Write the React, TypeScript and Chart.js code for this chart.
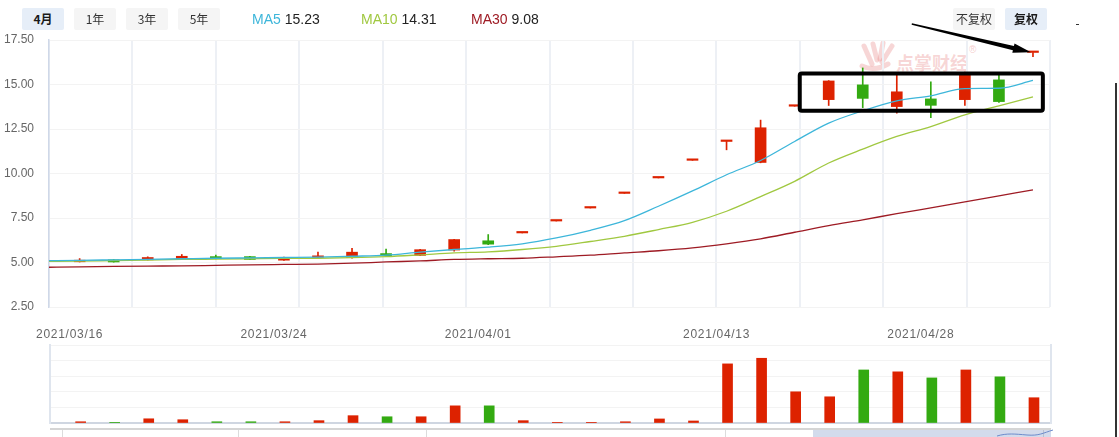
import React, { useEffect, useRef } from "react";
import { Chart, registerables } from "chart.js";

Chart.register(...registerables);

// ---------- data ----------
const tickIndex = [0, 6, 12, 19, 25];
const tickDates = ["2021/03/16", "2021/03/24", "2021/04/01", "2021/04/13", "2021/04/28"];

const opens = [5.04, 5.15, 5.15, 5.2, 5.33, 5.33, 5.13, 5.29, 5.28, 5.5, 5.4, 5.7, 6.22, 6.66, 7.33, 8.06, 8.88, 9.75, 10.74, 11.8, 10.62, 13.78, 14.15, 14.98, 13.76, 14.19, 14.15, 15.26, 16.8];
const highs = [5.22, 5.16, 5.32, 5.45, 5.41, 5.34, 5.3, 5.58, 5.8, 5.75, 5.74, 6.3, 6.57, 6.66, 7.33, 8.06, 8.88, 9.75, 10.74, 11.8, 13.0, 13.78, 15.22, 15.93, 15.56, 15.15, 15.7, 15.55, 16.8];
const lows = [5.03, 5.02, 5.14, 5.18, 5.2, 5.16, 5.12, 5.25, 5.25, 5.36, 5.38, 5.63, 6.0, 6.66, 7.33, 8.06, 8.88, 9.75, 10.74, 11.33, 10.6, 13.78, 13.82, 13.7, 13.39, 13.14, 13.82, 14.0, 16.56];
const closes = [5.13, 5.03, 5.28, 5.35, 5.22, 5.17, 5.28, 5.31, 5.58, 5.38, 5.72, 6.29, 6.03, 6.66, 7.33, 8.06, 8.88, 9.75, 10.74, 11.8, 12.57, 13.78, 15.2, 14.22, 14.59, 13.83, 15.6, 14.04, 16.8];
const volumes = [0.8, 0.2, 2.7, 2.1, 0.8, 0.8, 0.8, 1.5, 4.7, 4.0, 4.0, 11.0, 11.0, 1.5, 0.1, 0.1, 0.8, 2.6, 1.3, 37.9, 41.5, 20.0, 16.8, 34.0, 32.8, 28.9, 34.0, 29.6, 16.2];

// moving averages start one session before the first visible candle (index -1)
const ma5 = [5.1, 5.12, 5.15, 5.18, 5.21, 5.24, 5.26, 5.28, 5.3, 5.35, 5.41, 5.58, 5.73, 5.86, 6.05, 6.38, 6.81, 7.35, 8.16, 9.02, 9.93, 10.73, 11.8, 12.83, 13.52, 14.08, 14.36, 14.77, 14.79, 15.23];
const ma10 = [5.06, 5.08, 5.11, 5.14, 5.17, 5.19, 5.21, 5.23, 5.24, 5.27, 5.33, 5.43, 5.54, 5.6, 5.73, 5.91, 6.18, 6.47, 6.85, 7.26, 7.88, 8.7, 9.56, 10.59, 11.37, 12.08, 12.64, 13.3, 13.8, 14.31];
const ma30 = [4.73, 4.75, 4.78, 4.8, 4.81, 4.84, 4.87, 4.89, 4.91, 4.96, 5.03, 5.09, 5.17, 5.21, 5.24, 5.32, 5.41, 5.54, 5.66, 5.82, 6.05, 6.33, 6.7, 7.07, 7.4, 7.74, 8.07, 8.4, 8.74, 9.08];

const yTicks = [2.5, 17.5, 2.5]; // min, max, step

// annotation (data units)
const markBox = { fromIndex: 21.15, toIndex: 28.29, low: 13.52, high: 15.62 };
const markArrow = { fromIndex: 24.44, fromPrice: 18.4, toIndex: 27.94, toPrice: 16.81 };

// ---------- style ----------
const FONT = '"Liberation Sans", Arial, "Noto Sans CJK SC", sans-serif';
const CJK = '"Noto Sans CJK SC", "Liberation Sans", sans-serif';
const UP = "#dd2200";
const DOWN = "#33aa11";
const MA_COLORS = ["#3db6da", "#a0c840", "#9e1b24"];
const X_MIN = -0.9;
const X_MAX = 28.5;

const idx = closes.map((_, i) => i);
const candleColor = (i: number) => (closes[i] >= opens[i] ? UP : DOWN);

const xSpacingPlugin = {
  id: "xSpacing",
  beforeDraw(chart: any) {
    const s = chart.scales.x;
    if (s && !s.__patched) {
      const orig = s.drawLabels.bind(s);
      s.drawLabels = (area: any) => {
        const c = chart.ctx as any;
        c.save();
        c.letterSpacing = "0.7px";
        orig(area);
        c.restore();
      };
      s.__patched = true;
    }
  },
};

const markPlugin = {
  id: "marks",
  afterDraw(chart: any) {
    const { ctx, scales } = chart;
    const x = scales.x;
    const y = scales.y;
    // box
    const x0 = x.getPixelForValue(markBox.fromIndex);
    const x1 = x.getPixelForValue(markBox.toIndex);
    const y0 = y.getPixelForValue(markBox.high);
    const y1 = y.getPixelForValue(markBox.low);
    ctx.save();
    ctx.strokeStyle = "#000";
    ctx.lineWidth = 4;
    ctx.lineJoin = "round";
    ctx.beginPath();
    ctx.roundRect(x0, y0, x1 - x0, y1 - y0, 2);
    ctx.stroke();
    // arrow
    const sx = x.getPixelForValue(markArrow.fromIndex);
    const sy = y.getPixelForValue(markArrow.fromPrice);
    const tx = x.getPixelForValue(markArrow.toIndex);
    const ty = y.getPixelForValue(markArrow.toPrice);
    const L = Math.hypot(tx - sx, ty - sy);
    const ux = (tx - sx) / L;
    const uy = (ty - sy) / L;
    const nx = -uy;
    const ny = ux;
    const headLen = 18;
    const bx = tx - ux * headLen;
    const by = ty - uy * headLen;
    const pts = [
      [sx + nx * 0.7, sy + ny * 0.7],
      [bx + nx * 2.2, by + ny * 2.2],
      [bx + nx * 4.8, by + ny * 4.8],
      [tx, ty],
      [bx - nx * 4.8, by - ny * 4.8],
      [bx - nx * 2.2, by - ny * 2.2],
      [sx - nx * 0.7, sy - ny * 0.7],
    ];
    ctx.fillStyle = "#000";
    ctx.beginPath();
    pts.forEach(([px, py], k) => (k ? ctx.lineTo(px, py) : ctx.moveTo(px, py)));
    ctx.closePath();
    ctx.fill();
    ctx.restore();
  },
};

function maDataset(label: string, values: number[], color: string) {
  return {
    type: "line" as const,
    label,
    data: values.map((v, k) => ({ x: k - 1, y: v })),
    borderColor: color,
    borderWidth: 1.3,
    pointRadius: 0,
    cubicInterpolationMode: "monotone" as const,
    order: 0,
  };
}

function mainConfig(): any {
  return {
    type: "bar",
    data: {
      datasets: [
        maDataset("MA5", ma5, MA_COLORS[0]),
        maDataset("MA10", ma10, MA_COLORS[1]),
        maDataset("MA30", ma30, MA_COLORS[2]),
        {
          type: "bar",
          label: "body",
          data: idx.map((i) => ({ x: i, y: [opens[i], closes[i]] })),
          backgroundColor: idx.map(candleColor),
          barThickness: 11,
          minBarLength: 1.5,
          grouped: false,
          order: 1,
        },
        {
          type: "bar",
          label: "wick",
          data: idx.map((i) => ({ x: i, y: [lows[i], highs[i]] })),
          backgroundColor: idx.map(candleColor),
          barThickness: 1,
          grouped: false,
          order: 2,
        },
      ],
    },
    options: {
      animation: false,
      responsive: false,
      events: [],
      layout: { padding: { top: 40, right: 69, left: 0, bottom: 0 } },
      plugins: { legend: { display: false }, tooltip: { enabled: false } },
      scales: {
        x: {
          type: "linear",
          min: X_MIN,
          max: X_MAX,
          offset: false,
          position: "bottom",
          grid: { display: false, drawTicks: false, offset: false },
          border: { display: false },
          afterBuildTicks: (axis: any) => {
            axis.ticks = tickIndex.map((v) => ({ value: v }));
          },
          afterFit: (axis: any) => {
            axis.height = 38;
          },
          ticks: {
            autoSkip: false,
            maxRotation: 0,
            padding: 20,
            labelOffset: -10,
            color: "#666",
            font: { family: FONT, size: 12 },
            callback: (v: number) => tickDates[tickIndex.indexOf(v)] ?? "",
          },
        },
        xGrid: {
          type: "linear",
          min: 0,
          max: 12,
          position: "top",
          offset: false,
          ticks: { display: false, stepSize: 1 },
          grid: { color: "#edf0f5", lineWidth: 2, drawTicks: false, offset: false },
          border: { display: false },
          afterFit: (axis: any) => {
            axis.height = 0;
          },
        },
        y: {
          min: yTicks[0],
          max: yTicks[1],
          ticks: {
            stepSize: yTicks[2],
            padding: 15,
            color: "#666",
            font: { family: FONT, size: 12 },
            callback: (v: number) => Number(v).toFixed(2),
          },
          grid: { color: "#f3f3f3", drawTicks: false },
          border: { color: "#cfd8e8", width: 1.5 },
          afterFit: (axis: any) => {
            axis.width = 49;
          },
        },
      },
    },
    plugins: [xSpacingPlugin, markPlugin],
  };
}

function volConfig(): any {
  return {
    type: "bar",
    data: {
      datasets: [
        {
          label: "volume",
          data: idx.map((i) => ({ x: i, y: volumes[i] })),
          backgroundColor: idx.map(candleColor),
          barThickness: 10,
          grouped: false,
        },
      ],
    },
    options: {
      animation: false,
      responsive: false,
      events: [],
      layout: { padding: { top: 5, right: 68, bottom: 14, left: 0 } },
      plugins: { legend: { display: false }, tooltip: { enabled: false } },
      scales: {
        x: {
          type: "linear",
          min: X_MIN,
          max: X_MAX,
          offset: false,
          ticks: { display: false },
          grid: { display: false, drawTicks: false, offset: false },
          border: { display: true, color: "#cfd6e1", width: 2 },
          afterFit: (a: any) => {
            a.height = 0;
          },
        },
        y: {
          min: 0,
          max: 50,
          ticks: { display: false, stepSize: 10 },
          grid: { color: "#f3f3f3", drawTicks: false },
          border: { color: "#dfe5ee", width: 2 },
          afterFit: (a: any) => {
            a.width = 50;
          },
        },
        yRight: {
          position: "right",
          ticks: { display: false },
          grid: { display: false, drawTicks: false },
          border: { color: "#dfe5ee", width: 2 },
          afterFit: (a: any) => {
            a.width = 0;
          },
        },
      },
    },
  };
}

const btn = (active: boolean): React.CSSProperties => ({
  position: "absolute",
  top: 8,
  height: 22,
  width: 42,
  lineHeight: "22px",
  textAlign: "center",
  fontSize: 12,
  fontFamily: CJK,
  color: active ? "#1a1a1a" : "#333",
  fontWeight: active ? 700 : 400,
  background: active ? "#e6eef8" : "#f5f5f5",
  borderRadius: 2,
});

const periodButtons = [
  { label: "4月", left: 22, active: true },
  { label: "1年", left: 74, active: false },
  { label: "3年", left: 126, active: false },
  { label: "5年", left: 178, active: false },
];
const maLegend = [
  { name: "MA5", values: ma5, left: 252 },
  { name: "MA10", values: ma10, left: 361 },
  { name: "MA30", values: ma30, left: 471 },
];
const navTicks = [62, 238, 426, 725];

export default function App() {
  const mainRef = useRef<HTMLCanvasElement>(null);
  const volRef = useRef<HTMLCanvasElement>(null);

  useEffect(() => {
    const main = new Chart(mainRef.current as HTMLCanvasElement, mainConfig());
    const vol = new Chart(volRef.current as HTMLCanvasElement, volConfig());
    return () => {
      main.destroy();
      vol.destroy();
    };
  }, []);

  return (
    <div
      style={{
        position: "fixed",
        left: 0,
        top: 0,
        width: 1119,
        height: 437,
        background: "#fff",
        overflow: "hidden",
        fontFamily: FONT,
      }}
    >
      {/* watermark */}
      <svg
        width={40}
        height={32}
        style={{ position: "absolute", left: 858, top: 40 }}
        viewBox="0 0 40 32"
      >
        <g stroke="rgba(228,120,120,0.3)" strokeWidth={5} strokeLinecap="round" fill="none">
          <path d="M6 6 L14 24" />
          <path d="M15 4 L19 20" />
          <path d="M25 3 L22 19" />
          <path d="M34 6 L24 22" />
          <path d="M4 26 Q16 32 30 24" />
        </g>
      </svg>
      <div
        style={{
          position: "absolute",
          left: 896,
          top: 52,
          fontSize: 18,
          fontWeight: 700,
          fontFamily: CJK,
          color: "rgba(228,110,110,0.28)",
          lineHeight: "20px",
        }}
      >
        点掌财经
      </div>
      <div
        style={{
          position: "absolute",
          left: 969,
          top: 44,
          fontSize: 10,
          color: "rgba(228,110,110,0.35)",
        }}
      >
        ®
      </div>

      <canvas
        ref={mainRef}
        width={1119}
        height={345}
        style={{ position: "absolute", left: 0, top: 0 }}
      />
      <canvas
        ref={volRef}
        width={1119}
        height={97}
        style={{ position: "absolute", left: 0, top: 340 }}
      />

      {/* toolbar */}
      {periodButtons.map((b) => (
        <div key={b.label} style={{ ...btn(b.active), left: b.left }}>
          {b.label}
        </div>
      ))}
      {maLegend.map((m, k) => (
        <div
          key={m.name}
          style={{
            position: "absolute",
            left: m.left,
            top: 10,
            fontSize: 14,
            lineHeight: "18px",
            whiteSpace: "nowrap",
            color: "#222",
          }}
        >
          <span style={{ color: MA_COLORS[k] }}>{m.name}</span>{" "}
          {m.values[m.values.length - 1].toFixed(2)}
        </div>
      ))}
      <div style={{ ...btn(false), left: 953 }}>不复权</div>
      <div style={{ ...btn(true), left: 1005 }}>复权</div>
      <div style={{ position: "absolute", left: 1076, top: 24, width: 3, height: 1, background: "#333" }} />
      <div style={{ position: "absolute", left: 1115, top: 83, width: 2, height: 354, background: "#333" }} />

      {/* navigator strip */}
      <div style={{ position: "absolute", left: 813, top: 430, width: 238, height: 7, background: "#d3dbec" }} />
      <div style={{ position: "absolute", left: 50, top: 428, width: 1001, height: 2, background: "#d5d5d5" }} />
      {navTicks.map((t) => (
        <div key={t} style={{ position: "absolute", left: t, top: 430, width: 1, height: 7, background: "#dcdcdc" }} />
      ))}
      <div style={{ position: "absolute", left: 1043, top: 430, width: 1, height: 7, background: "#b8c0d0" }} />
      <svg width={60} height={9} style={{ position: "absolute", left: 995, top: 428 }}>
        <path d="M2 8 C12 5, 20 6, 32 7 S48 5, 58 2" stroke="#6d8ccc" strokeWidth={1} fill="none" />
      </svg>
    </div>
  );
}
